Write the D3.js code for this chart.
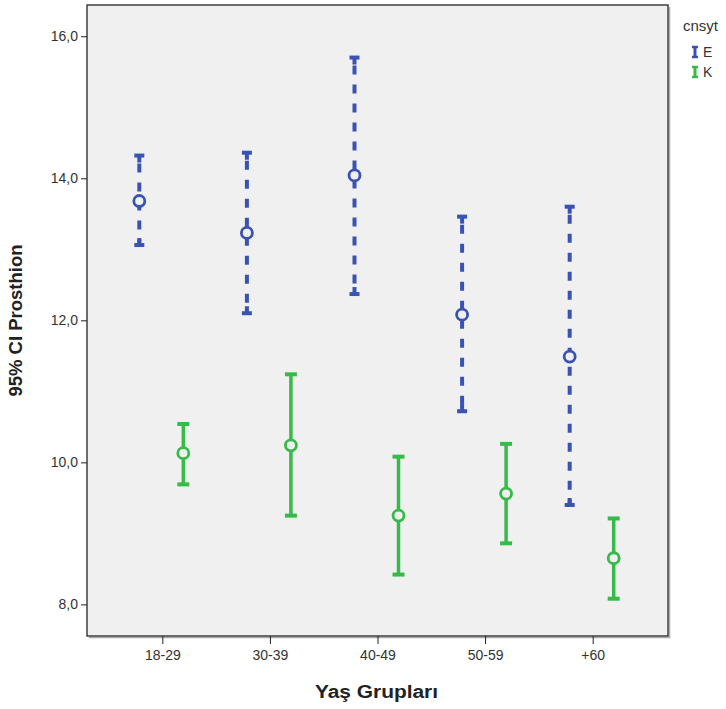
<!DOCTYPE html>
<html>
<head>
<meta charset="utf-8">
<script src="https://cdn.jsdelivr.net/npm/d3@7"></script>
<style>
  body { margin: 0; background: #fff; }
  text { font-family: "Liberation Sans", Arial, sans-serif; }
</style>
</head>
<body>
<div id="chart"></div>
<script>
// age groups and the two cnsyt groups
var categories = ["18-29", "30-39", "40-49", "50-59", "+60"];
var groups = ["E", "K"];

// mean and 95% CI bounds
var meanE  = [13.68, 13.23, 14.04, 12.08, 11.49];
var lowerE = [13.06, 12.10, 12.37, 10.72, 9.40];
var upperE = [14.32, 14.36, 15.70, 13.46, 13.60];

var meanK  = [10.13, 10.24, 9.25, 9.56, 8.65];
var lowerK = [9.69, 9.25, 8.42, 8.86, 8.08];
var upperK = [10.54, 11.24, 10.08, 10.26, 9.21];

var yTicks = [8, 10, 12, 14, 16];

var colors = {E: "#3a53b3", K: "#36bb48"};

var width = 726, height = 709;
var margin = {top: 5, left: 87, right: 58, bottom: 73};
var w = width - margin.left - margin.right,
    h = height - margin.top - margin.bottom;

var svg = d3.select("#chart").append("svg")
  .attr("width", width)
  .attr("height", height);

var g = svg.append("g")
  .attr("transform", "translate(" + margin.left + "," + margin.top + ")");

var x = d3.scalePoint().domain(categories).range([0, w]).padding(0.7);
var xGroup = d3.scalePoint().domain(groups).range([-23, 21]);
var y = d3.scaleLinear().domain([7.555, 16.44]).range([h, 0]);

// soft shadow on the right and bottom of the frame
g.append("path")
  .attr("d", "M" + (w + 1.5) + ",2V" + (h + 1.5) + "H2")
  .attr("fill", "none")
  .attr("stroke", "#aaa")
  .attr("stroke-width", 1.5);

// plot background
g.append("rect")
  .attr("x", 0).attr("y", 0)
  .attr("width", w).attr("height", h)
  .attr("fill", "#f0f0f0")
  .attr("stroke", "#222")
  .attr("stroke-width", 1.3);

// build the rows the error bars are drawn from
var rows = [];
categories.forEach(function(c, i) {
  rows.push({cat: c, grp: "E", mean: meanE[i], lo: lowerE[i], hi: upperE[i]});
  rows.push({cat: c, grp: "K", mean: meanK[i], lo: lowerK[i], hi: upperK[i]});
});

var bars = g.selectAll(".bar").data(rows).enter().append("g")
  .attr("class", "bar")
  .attr("transform", function(d) { return "translate(" + (x(d.cat) + xGroup(d.grp)) + ",0)"; });

bars.append("line")
  .attr("x1", 0).attr("x2", 0)
  .attr("y1", function(d) { return y(d.hi); })
  .attr("y2", function(d) { return y(d.lo); })
  .attr("stroke", function(d) { return colors[d.grp]; })
  .attr("stroke-width", function(d) { return d.grp == "E" ? 4 : 3.5; })
  .attr("stroke-dasharray", function(d) { return d.grp == "E" ? "9,10" : null; })
  .attr("stroke-dashoffset", -8);

// caps
bars.selectAll(".cap").data(function(d) { return [d, d]; }).enter().append("line")
  .attr("x1", function(d) { return d.grp == "E" ? -5 : -6; })
  .attr("x2", function(d) { return d.grp == "E" ? 5 : 6; })
  .attr("y1", function(d, i) { return y(i == 0 ? d.hi : d.lo); })
  .attr("y2", function(d, i) { return y(i == 0 ? d.hi : d.lo); })
  .attr("stroke", function(d) { return colors[d.grp]; })
  .attr("stroke-width", 4);

// short stubs next to the caps on the dashed bars
bars.filter(function(d) { return d.grp == "E"; })
  .selectAll(".stub").data(function(d) { return [d, d]; }).enter().append("line")
  .attr("x1", 0).attr("x2", 0)
  .attr("y1", function(d, i) { return y(i == 0 ? d.hi : d.lo); })
  .attr("y2", function(d, i) { return y(i == 0 ? d.hi : d.lo) + (i == 0 ? 7 : -7); })
  .attr("stroke", function(d) { return colors[d.grp]; })
  .attr("stroke-width", 4);

bars.append("circle")
  .attr("cx", 0)
  .attr("cy", function(d) { return y(d.mean); })
  .attr("r", 5.5)
  .attr("fill", "#f0f0f0")
  .attr("stroke", function(d) { return colors[d.grp]; })
  .attr("stroke-width", 2.8);

// axes
var yAxis = g.append("g")
  .call(d3.axisLeft(y).tickValues(yTicks).tickSize(6).tickPadding(3)
    .tickFormat(function(d) { return d3.format(".1f")(d).replace(".", ","); }));
yAxis.select(".domain").remove();
yAxis.selectAll("line").attr("stroke", "#222");
yAxis.selectAll("text").attr("font-size", 14).attr("fill", "#333");

var xAxis = g.append("g")
  .attr("transform", "translate(0," + h + ")")
  .call(d3.axisBottom(x).tickSize(8).tickPadding(6));
xAxis.select(".domain").remove();
xAxis.selectAll("line").attr("stroke", "#222");
xAxis.selectAll("text").attr("font-size", 14).attr("fill", "#333");

// axis titles
svg.append("text")
  .attr("transform", "translate(22," + (margin.top + h / 2) + ") rotate(-90)")
  .attr("text-anchor", "middle")
  .attr("font-size", 18.5)
  .attr("font-weight", "bold")
  .attr("fill", "#222")
  .text("95% CI Prosthion");

svg.append("text")
  .attr("transform", "translate(" + (margin.left + w / 2 - 1) + ",698) scale(1.1,1)")
  .attr("text-anchor", "middle")
  .attr("font-size", 19)
  .attr("font-weight", "bold")
  .attr("fill", "#222")
  .text("Yaş Grupları");

// legend
var legend = svg.append("g").attr("transform", "translate(683,0)");
legend.append("text")
  .attr("x", 0).attr("y", 31)
  .attr("font-size", 15)
  .attr("fill", "#333")
  .text("cnsyt");

var items = legend.selectAll(".item").data(groups).enter().append("g")
  .attr("class", "item")
  .attr("transform", function(d, i) { return "translate(0," + (52 + i * 20) + ")"; });

items.append("line")
  .attr("x1", 12).attr("x2", 12).attr("y1", -6).attr("y2", 6)
  .attr("stroke", function(d) { return colors[d]; })
  .attr("stroke-width", 3);
items.selectAll(".lcap").data(function(d) { return [d, d]; }).enter().append("line")
  .attr("x1", 9).attr("x2", 15)
  .attr("y1", function(d, i) { return i == 0 ? -5 : 5; })
  .attr("y2", function(d, i) { return i == 0 ? -5 : 5; })
  .attr("stroke", function(d) { return colors[d]; })
  .attr("stroke-width", 2.5);
items.append("text")
  .attr("x", 20).attr("y", 5)
  .attr("font-size", 14)
  .attr("fill", "#333")
  .text(function(d) { return d; });
</script>
</body>
</html>
